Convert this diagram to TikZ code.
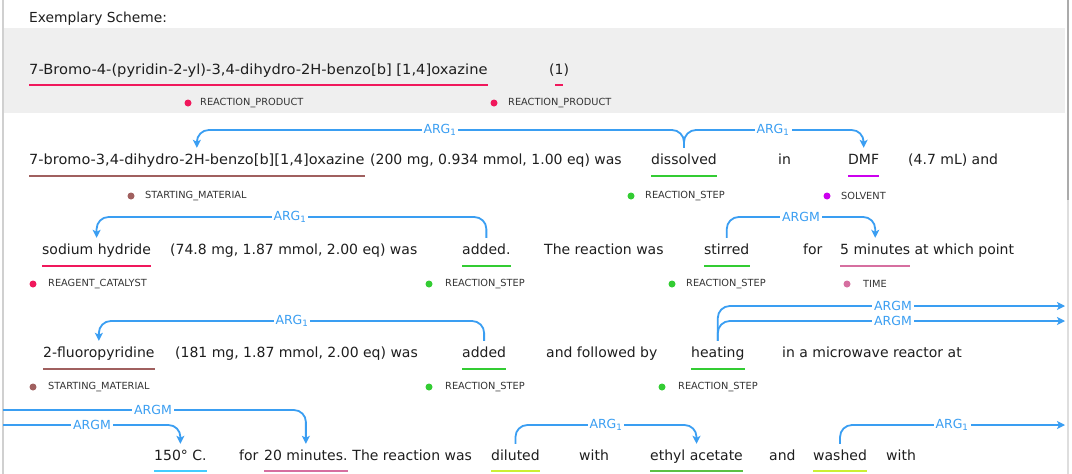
\documentclass[tikz,border=0pt]{standalone}
\usepackage{fontspec}
\setmainfont{DejaVu Sans}
\usetikzlibrary{calc,arrows.meta}
\definecolor{txt}{HTML}{1E1E1E}
\definecolor{lbltxt}{HTML}{333333}
\definecolor{arcblue}{HTML}{3A9EF2}
\definecolor{band}{HTML}{EFEFEF}
\definecolor{edgegray}{HTML}{D0D0D0}
\definecolor{thumb}{HTML}{ABABAB}
\definecolor{cprod}{HTML}{F0185C}
\definecolor{cstart}{HTML}{A0605F}
\definecolor{cstep}{HTML}{33CC33}
\definecolor{csolv}{HTML}{CC00EE}
\definecolor{ctime}{HTML}{D66FA0}
\definecolor{ctemp}{HTML}{44CCFF}
\definecolor{cwork}{HTML}{CCF033}
\definecolor{cethyl}{HTML}{5CC043}
\tikzset{
  wd/.style={anchor=base west, inner sep=0pt, text height=16pt, text depth=4pt, font=\fontsize{14}{16}\selectfont, text=txt},
  lbl/.style={anchor=west, inner sep=0pt, font=\fontsize{9.8}{11}\selectfont, text=lbltxt},
  dotn/.style={circle, inner sep=0pt, minimum size=7pt, draw=none},
  ul/.style={line width=2pt},
  arcpath/.style={draw=arcblue, line width=1.8pt, rounded corners=12pt, -{Stealth[length=8pt,width=8pt,inset=2pt]}},
  arclbl/.style={fill=white, inner sep=2pt, text=arcblue, font=\fontsize{12.5}{14}\selectfont},
}
\begin{document}
\begin{tikzpicture}[x=1pt,y=-1pt]
\useasboundingbox (0,0) rectangle (1072,474);
\fill[white] (0,0) rectangle (1072,474);
\fill[band] (4,28) rectangle (1065,113);
\fill[edgegray] (2,0) rectangle (4,474);
\fill[edgegray!70] (1066.5,0) rectangle (1069,474);
\fill[thumb] (1066.5,0) rectangle (1069,200);

% title
\node[wd,font=\fontsize{13.8}{16}\selectfont] (title) at (29,22) {Exemplary Scheme:};

% row 1
\node[wd] (prod) at (29,74) {\scalebox{1.048}[1]{7-Bromo-4-(pyridin-2-yl)-3,4-dihydro-2H-benzo[b] [1,4]oxazine}};
\node[wd] (one) at (549,74) {(1)};
\draw[ul,cprod] ($(prod.base west)+(0,11)$) -- ($(prod.base east)+(0,11)$);
\draw[ul,cprod] ($(one.base)+(-4,11)$) -- ($(one.base)+(4,11)$);
\node[dotn,fill=cprod] (d1a) at (188,103) {};
\node[lbl] (l1a) at (200,103) {REACTION\_PRODUCT};
\node[dotn,fill=cprod] (d1b) at (494,103) {};
\node[lbl] (l1b) at (508,103) {REACTION\_PRODUCT};

% row 2
\node[wd] (sm1) at (29,164) {\scalebox{1.037}[1]{7-bromo-3,4-dihydro-2H-benzo[b][1,4]oxazine}};
\node[wd] (r2a) at (370,164) {(200 mg, 0.934 mmol, 1.00 eq) was};
\node[wd] (dissolved) at (651,164) {dissolved};
\node[wd] (in2) at (778,164) {in};
\node[wd] (dmf) at (848,164) {DMF};
\node[wd] (r2b) at (908,164) {(4.7 mL) and};
\draw[ul,cstart] ($(sm1.base west)+(0,12)$) -- ($(sm1.base east)+(0,12)$);
\draw[ul,cstep] ($(dissolved.base west)+(0,12)$) -- ($(dissolved.base east)+(0,12)$);
\draw[ul,csolv] ($(dmf.base west)+(0,12)$) -- ($(dmf.base east)+(0,12)$);
\node[dotn,fill=cstart] (d2a) at (131,196) {};
\node[lbl] (l2a) at (145,196) {STARTING\_MATERIAL};
\node[dotn,fill=cstep] (d2b) at (631,196) {};
\node[lbl] (l2b) at (645,196) {REACTION\_STEP};
\node[dotn,fill=csolv] (d2c) at (827,196) {};
\node[lbl] (l2c) at (841,196) {SOLVENT};
\coordinate (L2) at (0,130);
\draw[arcpath] (dissolved.north) |- (sm1.north |- L2) -- (sm1.north);
\draw[arcpath] (dissolved.north) |- (dmf.north |- L2) -- (dmf.north);
\node[arclbl] (a2a) at (440,130) {ARG\textsubscript{1}};
\node[arclbl] (a2b) at (773,130) {ARG\textsubscript{1}};

% row 3
\node[wd] (sodium) at (42,254) {sodium hydride};
\node[wd] (r3a) at (170,254) {(74.8 mg, 1.87 mmol, 2.00 eq) was};
\node[wd] (added3) at (462,254) {added.};
\node[wd] (r3b) at (544,254) {The reaction was};
\node[wd] (stirred) at (704,254) {stirred};
\node[wd] (for3) at (803,254) {for};
\node[wd] (fivemin) at (840,254) {5 minutes};
\node[wd, anchor=base west] (r3c) at ($(fivemin.base east)+(4,0)$) {at which point};
\draw[ul,cprod] ($(sodium.base west)+(0,12)$) -- ($(sodium.base east)+(0,12)$);
\draw[ul,cstep] ($(added3.base west)+(0,12)$) -- ($(added3.base east)+(0,12)$);
\draw[ul,cstep] ($(stirred.base west)+(0,12)$) -- ($(stirred.base east)+(0,12)$);
\draw[ul,ctime] ($(fivemin.base west)+(0,12)$) -- ($(fivemin.base east)+(0,12)$);
\node[dotn,fill=cprod] (d3a) at (33,284) {};
\node[lbl] (l3a) at (48,284) {REAGENT\_CATALYST};
\node[dotn,fill=cstep] (d3b) at (429,284) {};
\node[lbl] (l3b) at (445,284) {REACTION\_STEP};
\node[dotn,fill=cstep] (d3c) at (672,284) {};
\node[lbl] (l3c) at (686,284) {REACTION\_STEP};
\node[dotn,fill=ctime] (d3d) at (847,284) {};
\node[lbl] (l3d) at (863,284) {TIME};
\coordinate (L3) at (0,217);
\draw[arcpath] (added3.north) |- (sodium.north |- L3) -- (sodium.north);
\draw[arcpath] (stirred.north) |- (fivemin.north |- L3) -- (fivemin.north);
\node[arclbl] (a3a) at (290,217) {ARG\textsubscript{1}};
\node[arclbl] (a3b) at (801,217) {ARGM};

% row 4
\node[wd] (fluoro) at (43,357) {2-fluoropyridine};
\node[wd] (r4a) at (175,357) {(181 mg, 1.87 mmol, 2.00 eq) was};
\node[wd] (added4) at (462,357) {added};
\node[wd] (r4b) at (546,357) {and followed by};
\node[wd] (heating) at (691,357) {heating};
\node[wd] (r4c) at (782,357) {in a microwave reactor at};
\draw[ul,cstart] ($(fluoro.base west)+(0,12)$) -- ($(fluoro.base east)+(0,12)$);
\draw[ul,cstep] ($(added4.base west)+(0,12)$) -- ($(added4.base east)+(0,12)$);
\draw[ul,cstep] ($(heating.base west)+(0,12)$) -- ($(heating.base east)+(0,12)$);
\node[dotn,fill=cstart] (d4a) at (33,387) {};
\node[lbl] (l4a) at (48,387) {STARTING\_MATERIAL};
\node[dotn,fill=cstep] (d4b) at (429,387) {};
\node[lbl] (l4b) at (445,387) {REACTION\_STEP};
\node[dotn,fill=cstep] (d4c) at (662,387) {};
\node[lbl] (l4c) at (678,387) {REACTION\_STEP};
\coordinate (L4) at (0,321);
\coordinate (E4a) at (1065,306);
\coordinate (E4b) at (1065,321);
\draw[arcpath] (added4.north) |- (fluoro.north |- L4) -- (fluoro.north);
\draw[arcpath] (heating.north) |- (E4a);
\draw[arcpath] (heating.north) |- (E4b);
\node[arclbl] (a4a) at (292,321) {ARG\textsubscript{1}};
\node[arclbl] (a4b) at (893,306) {ARGM};
\node[arclbl] (a4c) at (893,321) {ARGM};

% row 5
\node[wd] (temp) at (154,460) {150° C.};
\node[wd] (for5) at (239,460) {for};
\node[wd] (twenty) at (264,460) {20 minutes.};
\node[wd, anchor=base west] (r5a) at ($(twenty.base east)+(4.5,0)$) {The reaction was};
\node[wd] (diluted) at (491,460) {diluted};
\node[wd] (with5a) at (579,460) {with};
\node[wd] (ethyl) at (650,460) {ethyl acetate};
\node[wd] (and5) at (769,460) {and};
\node[wd] (washed) at (813,460) {washed};
\node[wd] (with5b) at (886,460) {with};
\draw[ul,ctemp] ($(temp.base west)+(0,11)$) -- ($(temp.base east)+(0,11)$);
\draw[ul,ctime] ($(twenty.base west)+(0,11)$) -- ($(twenty.base east)+(0,11)$);
\draw[ul,cwork] ($(diluted.base west)+(0,11)$) -- ($(diluted.base east)+(0,11)$);
\draw[ul,cethyl] ($(ethyl.base west)+(0,11)$) -- ($(ethyl.base east)+(0,11)$);
\draw[ul,cwork] ($(washed.base west)+(0,11)$) -- ($(washed.base east)+(0,11)$);
\coordinate (W5a) at (3,410);
\coordinate (W5b) at (3,425);
\coordinate (L5) at (0,425);
\coordinate (E5) at (1065,425);
\draw[arcpath] (W5a) -| (twenty.north);
\draw[arcpath] (W5b) -| (temp.north);
\draw[arcpath] (diluted.north) |- (ethyl.north |- L5) -- (ethyl.north);
\draw[arcpath] (washed.north) |- (E5);
\node[arclbl] (a5a) at (153,410) {ARGM};
\node[arclbl] (a5b) at (92,425) {ARGM};
\node[arclbl] (a5c) at (606,425) {ARG\textsubscript{1}};
\node[arclbl] (a5d) at (952,425) {ARG\textsubscript{1}};
\end{tikzpicture}
\end{document}
